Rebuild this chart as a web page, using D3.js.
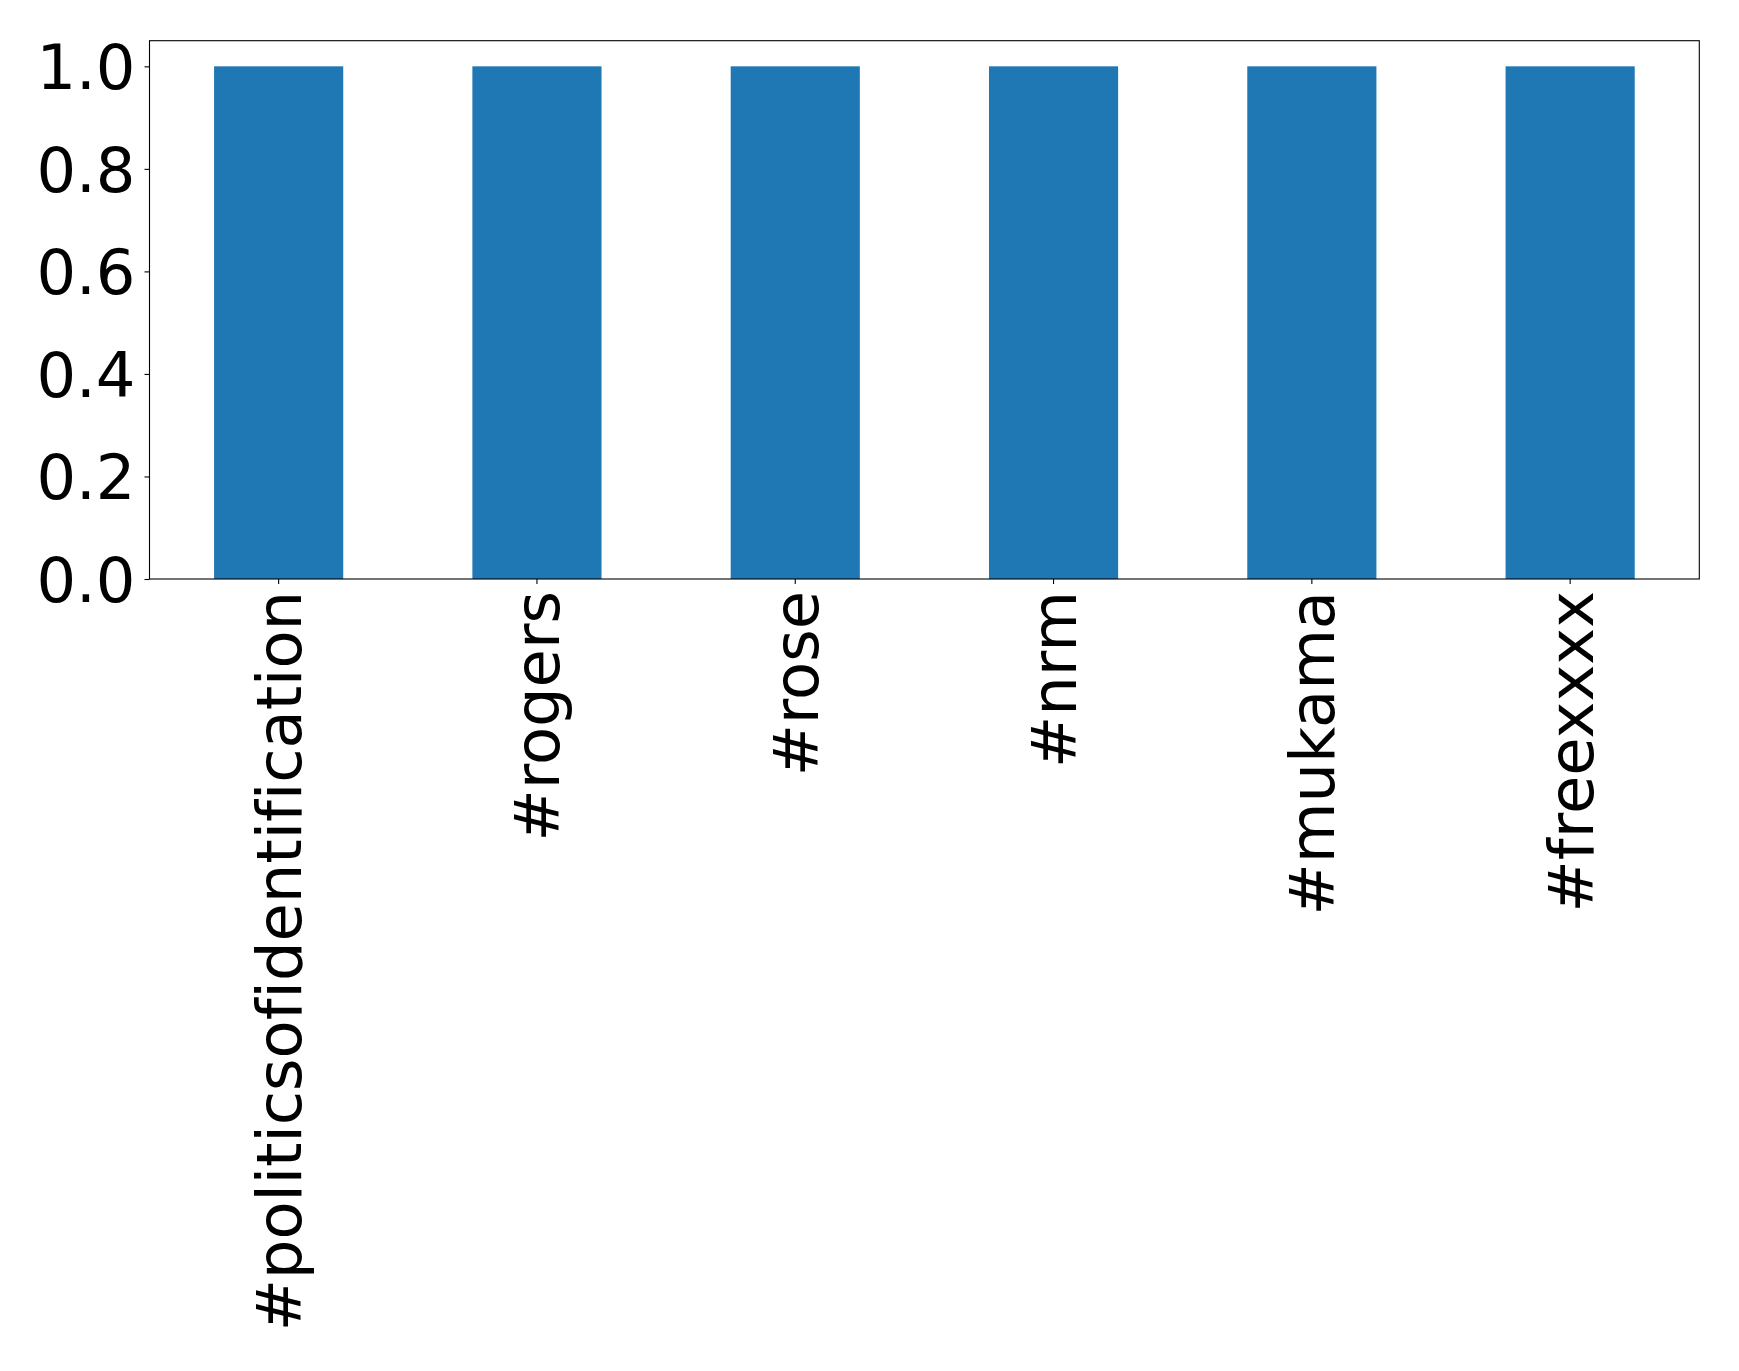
<!DOCTYPE html>
<html>
<head>
<meta charset="utf-8">
<script src="https://cdn.jsdelivr.net/npm/d3@7"></script>
<style>
  html, body { margin: 0; padding: 0; background: #fff; }
  svg { display: block; }
  text { font-variant-ligatures: none; font-feature-settings: "liga" 0, "clig" 0; }
</style>
</head>
<body>
<svg id="chart" width="1739" height="1371"></svg>
<script>
const categories = ["#politicsofidentification", "#rogers", "#rose", "#nrm", "#mukama", "#freexxxx"];
const values = [1, 1, 1, 1, 1, 1];
const yTicks = [0.0, 0.2, 0.4, 0.6, 0.8, 1.0];

const svg = d3.select("#chart");
const mLeft = 149.5, mRight = 1699.3, mTop = 40.7, mBottom = 579;
const font = "DejaVu Sans, sans-serif";
const fs = 62.3;

const x = d3.scaleBand().domain(categories).range([mLeft, mRight]).paddingInner(0.5).paddingOuter(0.25);
const y = d3.scaleLinear().domain([0, 1.05]).range([mBottom, mTop]);

svg.append("g").selectAll("rect").data(categories).join("rect")
  .attr("x", d => x(d))
  .attr("width", x.bandwidth())
  .attr("y", (d, i) => y(values[i]))
  .attr("height", (d, i) => y(0) - y(values[i]))
  .attr("fill", "#1f77b4");

// frame
svg.append("rect").attr("x", mLeft).attr("y", mTop).attr("width", mRight - mLeft).attr("height", mBottom - mTop)
  .attr("fill", "none").attr("stroke", "#000").attr("stroke-width", 1.1);

const yAxis = svg.append("g").attr("transform", `translate(${mLeft},0)`)
  .call(d3.axisLeft(y).tickValues(yTicks).tickFormat(d3.format(".1f")).tickSize(5).tickPadding(9));
yAxis.select(".domain").remove();
yAxis.selectAll("line").attr("stroke", "#000").attr("stroke-width", 1.1);
yAxis.selectAll("text").attr("font-family", font).attr("font-size", fs).attr("fill", "#000").attr("dy", "0.36em");

const xAxis = svg.append("g").attr("transform", `translate(0,${mBottom})`)
  .call(d3.axisBottom(x).tickSize(5).tickPadding(0));
xAxis.select(".domain").remove();
xAxis.selectAll("line").attr("stroke", "#000").attr("stroke-width", 1.1);
xAxis.selectAll("text")
  .attr("font-family", font).attr("font-size", fs).attr("fill", "#000")
  .attr("text-anchor", "end")
  .attr("transform", "translate(0,12) rotate(-90)")
  .attr("x", 0).attr("y", 0)
  .attr("dy", "0.36em");
</script>
</body>
</html>
